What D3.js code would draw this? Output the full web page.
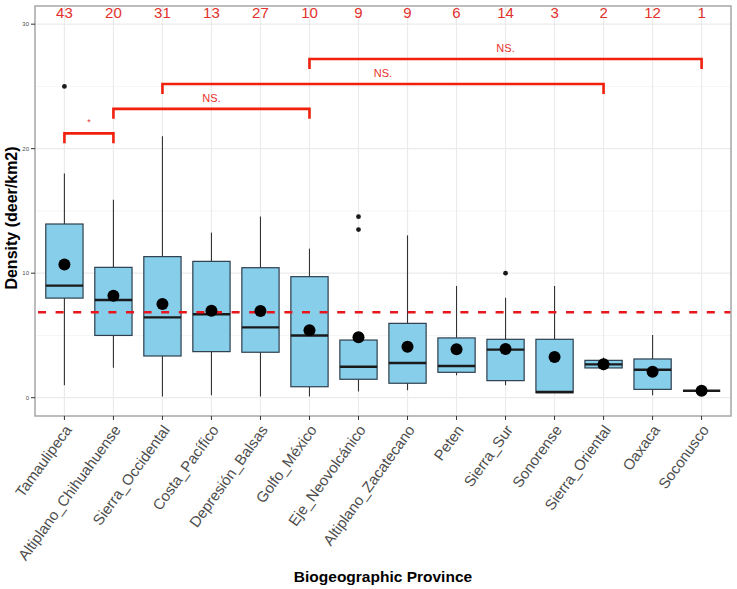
<!DOCTYPE html>
<html><head><meta charset="utf-8">
<script src="https://cdn.jsdelivr.net/npm/d3@7"></script>
<style>body{margin:0;background:#fff;font-family:"Liberation Sans",Arial,sans-serif}</style>
</head><body><svg id="c" width="737" height="589"></svg>
<script>
const provinces = ["Tamaulipeca","Altiplano_Chihuahuense","Sierra_Occidental","Costa_Pacífico","Depresión_Balsas","Golfo_México","Eje_Neovolcánico","Altiplano_Zacatecano","Peten","Sierra_Sur","Sonorense","Sierra_Oriental","Oaxaca","Soconusco"];
const counts = [43,20,31,13,27,10,9,9,6,14,3,2,12,1];
const whiskerLow  = [1.0,2.4,0.1,0.2,0.1,0.1,0.5,0.6,1.8,1.0,0.4,2.2,0.2,0.56];
const q1          = [8.0,5.0,3.35,3.7,3.65,0.88,1.48,1.16,2.04,1.37,0.4,2.39,0.67,0.56];
const medians     = [9.0,7.85,6.45,6.7,5.65,5.0,2.49,2.79,2.55,3.86,0.46,2.68,2.25,0.56];
const q3          = [13.95,10.47,11.33,10.95,10.44,9.72,4.63,5.97,4.8,4.69,4.69,3.0,3.11,0.56];
const whiskerHigh = [18.0,15.9,21.0,13.26,14.55,11.97,4.63,13.04,8.97,8.03,8.97,3.22,5.04,0.56];
const means       = [10.7,8.19,7.53,6.99,6.96,5.41,4.85,4.1,3.89,3.91,3.27,2.68,2.09,0.56];
const outliers    = [[25],[],[],[],[],[],[14.54,13.5],[],[],[10],[],[],[],[]];
const overallMean = 6.86;
const yTicks = [0,10,20,30];
const yMinor = [5,15,25];
const comparisons = [
  {from:"Tamaulipeca", to:"Altiplano_Chihuahuense", y:21.23, label:"*"},
  {from:"Altiplano_Chihuahuense", to:"Golfo_México", y:23.2, label:"NS."},
  {from:"Sierra_Occidental", to:"Sierra_Oriental", y:25.2, label:"NS."},
  {from:"Golfo_México", to:"Soconusco", y:27.2, label:"NS."}
];

const svg = d3.select("#c");
const L=35, R=731, T=6, B=416;
const x = d3.scalePoint().domain(provinces).range([L,R]).padding(0.6);
const y = d3.scaleLinear().domain([-1.47,31.46]).range([B,T]);
const step = x.step();
const bw = step*0.76;

const g = svg.append("g");
// grid
g.selectAll(".gmin").data(yMinor).join("line").attr("x1",L).attr("x2",R)
 .attr("y1",d=>y(d)).attr("y2",d=>y(d)).attr("stroke","#f2f2f2").attr("stroke-width",0.8);
g.selectAll(".gmaj").data(yTicks).join("line").attr("x1",L).attr("x2",R)
 .attr("y1",d=>y(d)).attr("y2",d=>y(d)).attr("stroke","#ebebeb").attr("stroke-width",1.2);
g.selectAll(".gx").data(provinces).join("line").attr("x1",d=>x(d)).attr("x2",d=>x(d))
 .attr("y1",T).attr("y2",B).attr("stroke","#ebebeb").attr("stroke-width",1.2);

// boxes
provinces.forEach((p,i)=>{
  const cx = x(p);
  g.append("line").attr("x1",cx).attr("x2",cx).attr("y1",y(q3[i])).attr("y2",y(whiskerHigh[i])).attr("stroke","#333").attr("stroke-width",1.1);
  g.append("line").attr("x1",cx).attr("x2",cx).attr("y1",y(q1[i])).attr("y2",y(whiskerLow[i])).attr("stroke","#333").attr("stroke-width",1.1);
  g.append("rect").attr("x",cx-bw/2).attr("width",bw).attr("y",y(q3[i])).attr("height",Math.max(0,y(q1[i])-y(q3[i])))
   .attr("fill","#87ceeb").attr("stroke","#2d3e4c").attr("stroke-width",1.2);
  g.append("line").attr("x1",cx-bw/2).attr("x2",cx+bw/2).attr("y1",y(medians[i])).attr("y2",y(medians[i])).attr("stroke","#1a1a1a").attr("stroke-width",2.4);
  outliers[i].forEach(o=>{
    g.append("circle").attr("cx",cx).attr("cy",y(o)).attr("r",2.4).attr("fill","#1a1a1a");
  });
});
// overall mean dashed line
g.append("line").attr("x1",L).attr("x2",R).attr("y1",y(overallMean)).attr("y2",y(overallMean))
 .attr("stroke","#e8161c").attr("stroke-width",2.4).attr("stroke-dasharray","8,9.6").attr("stroke-dashoffset",-3);
// means
g.selectAll(".mean").data(provinces).join("circle").attr("cx",d=>x(d)).attr("cy",(d,i)=>y(means[i])).attr("r",6).attr("fill","#000");

// counts
g.selectAll(".cnt").data(provinces).join("text").attr("x",d=>x(d)).attr("y",y(30.46)).attr("text-anchor","middle")
 .attr("font-size",15).attr("fill","#e3302b").text((d,i)=>counts[i]);

// brackets
comparisons.forEach(c=>{
  const x1=x(c.from), x2=x(c.to), yy=y(c.y), yl=y(c.y-0.8);
  g.append("path").attr("d",`M${x1},${yl}V${yy}H${x2}V${yl}`).attr("fill","none").attr("stroke","#f0200c").attr("stroke-width",2.6);
  g.append("text").attr("x",(x1+x2)/2).attr("y",yy-(c.label==="*"?8:7)).attr("text-anchor","middle")
   .attr("font-size",c.label==="*"?9:11).attr("fill","#e8322b").text(c.label);
});

// panel border
g.append("rect").attr("x",L).attr("y",T).attr("width",R-L).attr("height",B-T).attr("fill","none").attr("stroke","#a6a6a6").attr("stroke-width",1.5);

// y axis
const ya = g.append("g");
ya.selectAll("line").data(yTicks).join("line").attr("x1",L-4).attr("x2",L).attr("y1",d=>y(d)).attr("y2",d=>y(d)).attr("stroke","#333").attr("stroke-width",1);
ya.selectAll("text").data(yTicks).join("text").attr("x",L-6).attr("y",d=>y(d)+2).attr("text-anchor","end").attr("font-size",6).attr("fill","#4d4d4d").text(d=>d);

// x axis
const xa = g.append("g");
xa.selectAll("line").data(provinces).join("line").attr("x1",d=>x(d)).attr("x2",d=>x(d)).attr("y1",B).attr("y2",B+4).attr("stroke","#333").attr("stroke-width",1);
xa.selectAll("text").data(provinces).join("text")
 .attr("transform",d=>`translate(${x(d)+8},${B+14}) rotate(-54)`)
 .attr("text-anchor","end").attr("font-size",15).attr("fill","#4d4d4d").text(d=>d);

// titles
svg.append("text").attr("x",(L+R)/2).attr("y",582).attr("text-anchor","middle").attr("font-size",15.5).attr("font-weight","bold").attr("fill","#000").text("Biogeographic Province");
svg.append("text").attr("transform",`translate(17,218) rotate(-90)`).attr("text-anchor","middle").attr("font-size",16).attr("font-weight","bold").attr("fill","#000").text("Density (deer/km2)");
</script></body></html>
